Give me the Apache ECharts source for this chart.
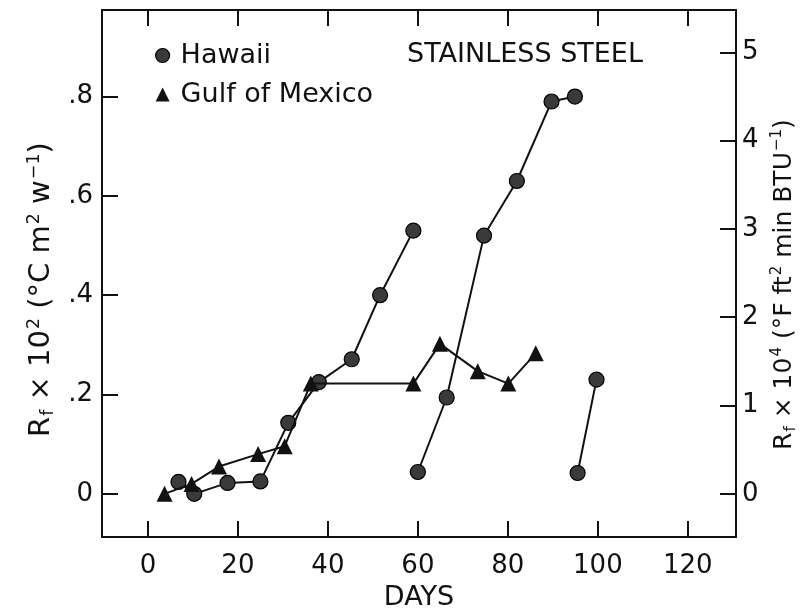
<!DOCTYPE html>
<html>
<head>
<meta charset="utf-8">
<script src="https://cdn.jsdelivr.net/npm/echarts@6/dist/echarts.min.js"></script>
<style>
  html, body { margin: 0; padding: 0; background: #fff; }
  #chart { width: 808px; height: 616px; }
</style>
</head>
<body>
<div id="chart"></div>
<script>
// Fouling resistance of stainless steel tubes versus exposure time.
// Hawaii runs (three separate exposure runs)
const hawaiiRun1Days = [6.8, 10.3, 17.7, 25.0, 31.2, 38.0, 45.3, 51.6, 59.0];
const hawaiiRun1Rf   = [0.024, 0.0, 0.022, 0.025, 0.143, 0.225, 0.271, 0.40, 0.53];
const hawaiiRun2Days = [60.0, 66.4, 74.7, 82.0, 89.7, 94.9];
const hawaiiRun2Rf   = [0.044, 0.194, 0.52, 0.63, 0.79, 0.80];
const hawaiiRun3Days = [95.5, 99.7];
const hawaiiRun3Rf   = [0.042, 0.23];
// Gulf of Mexico run
const gulfDays = [3.7, 9.7, 15.8, 24.5, 30.4, 36.2, 59.0, 64.9, 73.3, 80.1, 86.2];
const gulfRf   = [0.0, 0.02, 0.055, 0.08, 0.096, 0.222, 0.222, 0.302, 0.247, 0.222, 0.283];

// Axis ticks
const dayTicks = [0, 20, 40, 60, 80, 100, 120];
const siTicks = [0, 0.2, 0.4, 0.6, 0.8];
const englishTicks = [0, 1, 2, 3, 4, 5];

const pairs = (xs, ys) => xs.map((x, i) => [x, ys[i]]);

const FONT = 'DejaVu Sans';
const INK = '#111';
const TEXT_SIZE = 27;
const TICK_SIZE = 26;

const circleStyle = { color: '#3a3a3a', borderColor: '#000', borderWidth: 1.2 };
const lineStyle = { color: INK, width: 2 };

function hawaiiSeries(days, vals) {
  return {
    name: 'Hawaii', type: 'line', data: pairs(days, vals),
    symbol: 'circle', symbolSize: 15,
    itemStyle: circleStyle, lineStyle: lineStyle,
    z: 3
  };
}

const axisLineStyle = { show: true, onZero: false, lineStyle: { color: INK, width: 2 } };
const tickStyle = { color: INK, width: 2 };
function richName(size) {
  return {
    sub: { fontFamily: FONT, fontSize: size * 0.6, color: INK, verticalAlign: 'bottom', padding: [12, 0, 0, 1] },
    sup: { fontFamily: FONT, fontSize: size * 0.6, color: INK, verticalAlign: 'top', padding: [0, 0, 14, 1] }
  };
}

const chart = echarts.init(document.getElementById('chart'), null, { renderer: 'canvas' });
chart.setOption({
  backgroundColor: '#fff',
  animation: false,
  title: {
    text: 'STAINLESS STEEL', left: 402, top: 36,
    textStyle: { fontFamily: FONT, fontSize: TEXT_SIZE, fontWeight: 'normal', color: INK }
  },
  legend: {
    orient: 'vertical', left: 150, top: 37,
    itemWidth: 14, itemHeight: 14, itemGap: 12,
    textStyle: { fontFamily: FONT, fontSize: TEXT_SIZE, color: INK, padding: [0, 0, 0, 6] },
    data: [
      { name: 'Hawaii', icon: 'circle', itemStyle: circleStyle },
      { name: 'Gulf of Mexico', icon: 'triangle', itemStyle: { color: '#111' } }
    ]
  },
  grid: { left: 102, right: 72, top: 10, bottom: 70, containLabel: false },
  xAxis: [
    {
      type: 'value', position: 'bottom', min: -10.2, max: 130.7,
      name: 'DAYS', nameLocation: 'middle', nameGap: 44,
      nameTextStyle: { fontFamily: FONT, fontSize: TEXT_SIZE, color: INK },
      axisLine: axisLineStyle,
      axisTick: { show: true, inside: true, length: 16, lineStyle: tickStyle, customValues: dayTicks },
      axisLabel: { show: true, customValues: dayTicks, margin: 16, fontFamily: FONT, fontSize: TICK_SIZE, color: INK },
      splitLine: { show: false }
    },
    {
      type: 'value', position: 'top', min: -10.2, max: 130.7,
      axisLine: axisLineStyle,
      axisTick: { show: true, inside: true, length: 16, lineStyle: tickStyle, customValues: dayTicks },
      axisLabel: { show: false },
      splitLine: { show: false }
    }
  ],
  yAxis: [
    {
      type: 'value', position: 'left', min: -0.0871, max: 0.9743,
      name: 'R{sub|f} × 10{sup|2} (°C m{sup|2} w{sup|−1})',
      nameLocation: 'middle', nameRotate: 90, nameGap: 44,
      nameTextStyle: { fontFamily: FONT, fontSize: 29, color: INK, rich: richName(29), padding: [0, 32, 0, 0] },
      axisLine: axisLineStyle,
      axisTick: { show: true, inside: true, length: 16, lineStyle: tickStyle, customValues: siTicks },
      axisLabel: {
        show: true, customValues: siTicks, margin: 9, fontFamily: FONT, fontSize: TICK_SIZE, color: INK,
        formatter: v => (v === 0 ? '0' : v.toFixed(1).replace(/^0/, ''))
      },
      splitLine: { show: false }
    },
    {
      type: 'value', position: 'right', min: -0.49, max: 5.479,
      name: 'R{sub|f} × 10{sup|4} (°F ft{sup|2} min BTU{sup|−1})',
      nameLocation: 'middle', nameRotate: 90, nameGap: 34,
      nameTextStyle: { fontFamily: FONT, fontSize: 25, color: INK, rich: richName(25), padding: [0, 22, 0, 0] },
      axisLine: axisLineStyle,
      axisTick: { show: true, inside: true, length: 16, lineStyle: tickStyle, customValues: englishTicks },
      axisLabel: { show: true, customValues: englishTicks, margin: 6, fontFamily: FONT, fontSize: TICK_SIZE, color: INK },
      splitLine: { show: false }
    }
  ],
  series: [
    hawaiiSeries(hawaiiRun1Days, hawaiiRun1Rf),
    hawaiiSeries(hawaiiRun2Days, hawaiiRun2Rf),
    hawaiiSeries(hawaiiRun3Days, hawaiiRun3Rf),
    {
      name: 'Gulf of Mexico', type: 'line', data: pairs(gulfDays, gulfRf),
      symbol: 'triangle', symbolSize: 16,
      itemStyle: { color: '#111' }, lineStyle: lineStyle,
      z: 4
    }
  ]
});
</script>
</body>
</html>
